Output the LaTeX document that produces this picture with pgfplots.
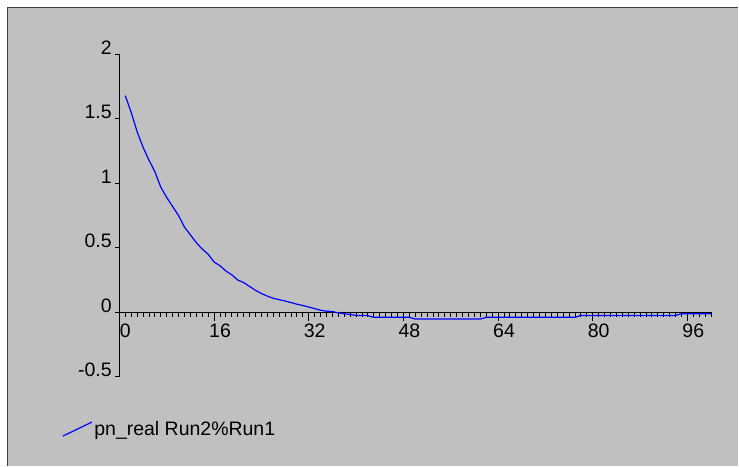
\documentclass[border=0pt]{standalone}
\usepackage{fontspec}
\setmainfont{Liberation Sans}
\usepackage{pgfplots}
\pgfplotsset{compat=1.18}
\definecolor{bg}{HTML}{C0C0C0}
\definecolor{frame}{HTML}{404040}
\begin{document}
\begin{tikzpicture}[x=1bp,y=1bp]
\fill[white] (0,0) rectangle (739,-466);
\fill[bg] (7,-7) rectangle (739,-466);
\draw[frame, line width=1.5bp] (7.5,-466) -- (7.5,-7.5) -- (739,-7.5);
\begin{axis}[
  at={(119.5bp,-377bp)}, anchor=south west,
  scale only axis, width=592.2bp, height=322.5bp,
  xmin=0, xmax=100, ymin=-0.5, ymax=2,
  axis lines=middle, axis line style={-, black, line width=0.8bp},
  hide obscured x ticks=false, hide obscured y ticks=false,
  clip=false,
  xtick={0,16,32,48,64,80,96},
  xticklabels={0,16,32,48,64,80,96},
  minor xtick={0,1,...,100},
  ytick={-0.5,0,0.5,1,1.5,2},
  yticklabels={-0.5,0,0.5,1,1.5,2},
  minor ytick={-0.5,0,0.5,1,1.5,2},
  tick align=outside,
  major tick length=9bp, minor tick length=4.5bp,
  tick style={black, line width=0.8bp},
  major y tick style={draw=none},
  /pgf/number format/assume math mode=true,
  xticklabel style={font=\fontsize{19.5bp}{21bp}\selectfont, anchor=north, inner sep=0pt, xshift=6bp, yshift=-2.5bp},
  yticklabel style={font=\fontsize{19.5bp}{21bp}\selectfont, anchor=base east, inner sep=0pt, xshift=1.5bp},
  legend style={draw=none, fill=none, inner sep=0pt,
    at={(axis description cs:-0.097,-0.163)}, anchor=west,
    font=\fontsize{19.5bp}{21bp}\selectfont},
  legend cell align=left,
  legend image code/.code={\draw[#1] (0bp,-7bp) -- (29bp,7bp);},
]
\addplot[blue, line width=1.2bp] coordinates {
(1,1.68) (2,1.55) (3,1.40) (4,1.28) (5,1.18) (6,1.09) (7,0.97) (8,0.89)
(9,0.82) (10,0.75) (11,0.66) (12,0.60) (13,0.54) (14,0.49) (15,0.45)
(16,0.39) (17,0.36) (18,0.32) (19,0.29) (20,0.25) (21,0.23) (22,0.20)
(23,0.17) (24,0.145) (25,0.125) (26,0.108) (27,0.097) (28,0.087)
(29,0.075) (30,0.062) (31,0.052) (32,0.040) (33,0.028) (34,0.015)
(35,0.008) (36,0.005) (37,-0.005) (38,-0.012) (39,-0.018) (40,-0.025)
(41,-0.025) (42,-0.027) (43,-0.04) (44,-0.04) (45,-0.04) (46,-0.04)
(47,-0.04) (48,-0.04) (49,-0.04) (50,-0.053) (51,-0.053) (52,-0.053)
(53,-0.053) (54,-0.053) (55,-0.053) (56,-0.053) (57,-0.053) (58,-0.053)
(59,-0.053) (60,-0.053) (61,-0.053) (62,-0.04) (63,-0.04) (64,-0.04)
(65,-0.04) (66,-0.04) (67,-0.04) (68,-0.04) (69,-0.04) (70,-0.04)
(71,-0.04) (72,-0.04) (73,-0.04) (74,-0.04) (75,-0.04) (76,-0.04)
(77,-0.04) (78,-0.025) (79,-0.025) (80,-0.025) (81,-0.025) (82,-0.025)
(83,-0.025) (84,-0.025) (85,-0.025) (86,-0.025) (87,-0.025) (88,-0.025)
(89,-0.025) (90,-0.025) (91,-0.025) (92,-0.025) (93,-0.025) (94,-0.025)
(95,-0.012) (96,-0.012) (97,-0.012) (98,-0.012) (99,-0.012) (100,-0.012)
};
\addlegendentry{pn\_real Run2\%Run1}
\end{axis}
\end{tikzpicture}
\end{document}
